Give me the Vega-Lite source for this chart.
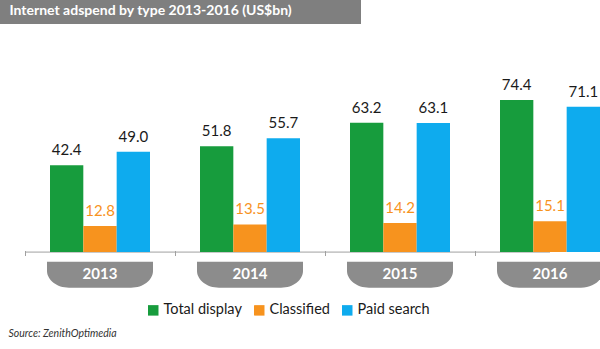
{
  "$schema": "https://vega.github.io/schema/vega-lite/v6.json",
  "padding": 0,
  "background": "white",
  "spacing": 44,
  "config": {"view": {"stroke": null}, "font": "Lato"},
  "vconcat": [
    {
      "width": 361,
      "height": 24,
      "view": {"fill": "#7f7f7f", "stroke": null},
      "data": {"values": [{"t": "Internet adspend by type 2013-2016 (US$bn)"}]},
      "mark": {
        "type": "text",
        "align": "left",
        "baseline": "middle",
        "dx": -171,
        "dy": -1,
        "color": "white",
        "font": "Lato",
        "fontSize": 14,
        "fontWeight": "bold"
      },
      "encoding": {"text": {"field": "t", "type": "nominal"}}
    },
    {
      "width": 600,
      "height": 225,
      "data": {
        "values": [
          {"year": "2013", "type": "Total display", "value": 42.4},
          {"year": "2013", "type": "Classified", "value": 12.8},
          {"year": "2013", "type": "Paid search", "value": 49.0},
          {"year": "2014", "type": "Total display", "value": 51.8},
          {"year": "2014", "type": "Classified", "value": 13.5},
          {"year": "2014", "type": "Paid search", "value": 55.7},
          {"year": "2015", "type": "Total display", "value": 63.2},
          {"year": "2015", "type": "Classified", "value": 14.2},
          {"year": "2015", "type": "Paid search", "value": 63.1},
          {"year": "2016", "type": "Total display", "value": 74.4},
          {"year": "2016", "type": "Classified", "value": 15.1},
          {"year": "2016", "type": "Paid search", "value": 71.1}
        ]
      },
      "encoding": {
        "x": {
          "field": "year",
          "type": "nominal",
          "scale": {"range": [25, 625], "paddingInner": 0, "paddingOuter": 0},
          "axis": {
            "title": "Source: ZenithOptimedia",
            "labels": false,
            "domain": false,
            "ticks": true,
            "tickSize": 5,
            "tickColor": "#a0a0a0",
            "bandPosition": 0,
            "offset": -42.5,
            "titleX": 8,
            "titleY": 86,
            "titleAlign": "left",
            "titleBaseline": "alphabetic",
            "titleFont": "Lato",
            "titleFontStyle": "italic",
            "titleFontWeight": "normal",
            "titleFontSize": 10.5,
            "titleColor": "#333333"
          }
        }
      },
      "layer": [
        {
          "data": {"values": [{"k": 1}]},
          "mark": {"type": "rule", "color": "#a0a0a0", "strokeWidth": 1, "clip": true},
          "encoding": {
            "x": {"datum": "2013", "bandPosition": 0},
            "x2": {"datum": "2016"},
            "y": {"datum": 0, "type": "quantitative", "scale": {"domain": [-20, 86]}, "axis": null}
          }
        },
        {
          "mark": {"type": "bar"},
          "encoding": {
            "xOffset": {
              "field": "type",
              "type": "nominal",
              "sort": ["Total display", "Classified", "Paid search"],
              "scale": {"paddingOuter": 0.75, "paddingInner": 0}
            },
            "y": {"field": "value", "type": "quantitative", "scale": {"domain": [-20, 86]}, "axis": null},
            "color": {
              "field": "type",
              "type": "nominal",
              "sort": ["Total display", "Classified", "Paid search"],
              "scale": {
                "domain": ["Total display", "Classified", "Paid search"],
                "range": ["#179c3d", "#f7931e", "#0eabee"]
              },
              "legend": {
                "title": null,
                "orient": "none",
                "legendX": 146,
                "legendY": 303,
                "direction": "horizontal",
                "symbolType": "square",
                "symbolSize": 110,
                "symbolStrokeWidth": 0,
                "labelFont": "Lato",
                "labelFontSize": 14.5,
                "labelColor": "#1a1a1a",
                "labelOffset": 3,
                "columnPadding": 10
              }
            }
          }
        },
        {
          "mark": {"type": "text", "baseline": "alphabetic", "dy": -10, "fontSize": 15, "font": "Lato"},
          "encoding": {
            "xOffset": {
              "field": "type",
              "type": "nominal",
              "sort": ["Total display", "Classified", "Paid search"],
              "scale": {"paddingOuter": 0.75, "paddingInner": 0}
            },
            "y": {"field": "value", "type": "quantitative"},
            "text": {"field": "value", "type": "quantitative", "format": ".1f"},
            "color": {
              "condition": {"test": "datum.type === 'Classified'", "value": "#f7931e"},
              "value": "#1a1a1a"
            }
          }
        },
        {
          "data": {"values": [{"year": "2013"}, {"year": "2014"}, {"year": "2015"}, {"year": "2016"}]},
          "mark": {
            "type": "point",
            "shape": "M-1,-0.245 L1,-0.245 L1,-0.075 C1,0.102 0.814,0.245 0.585,0.245 L-0.585,0.245 C-0.814,0.245 -1,0.102 -1,-0.075 Z",
            "filled": true,
            "size": 11236,
            "color": "#8c8c8c",
            "opacity": 1,
            "strokeWidth": 0,
            "clip": true
          },
          "encoding": {
            "y": {"datum": -11.07, "type": "quantitative"}
          }
        },
        {
          "data": {"values": [{"year": "2013"}, {"year": "2014"}, {"year": "2015"}, {"year": "2016"}]},
          "mark": {"type": "text", "baseline": "alphabetic", "fontSize": 15, "fontWeight": "bold", "font": "Lato", "color": "white"},
          "encoding": {
            "y": {"datum": -13, "type": "quantitative"},
            "text": {"field": "year", "type": "nominal"}
          }
        }
      ]
    }
  ]
}
